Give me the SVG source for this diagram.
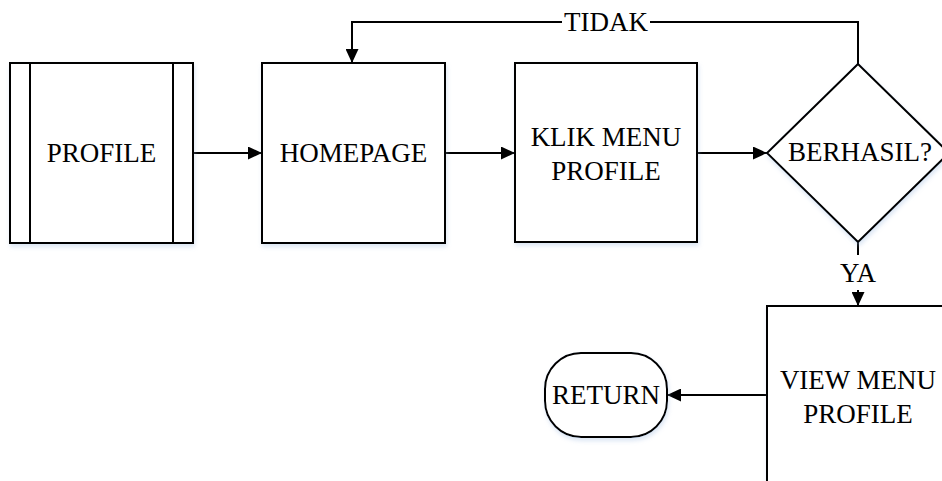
<svg xmlns="http://www.w3.org/2000/svg" width="942" height="481" viewBox="0 0 942 481">
<defs>
<style>
.shape{fill:#fff;stroke:#000;stroke-width:2;filter:url(#sh)}
.ln{fill:none;stroke:#000;stroke-width:2}
.t{font-family:"Liberation Serif","Times New Roman",serif;font-size:27px;fill:#000;text-anchor:middle}
</style>
<filter id="sh" x="-10%" y="-10%" width="125%" height="125%">
<feDropShadow dx="1" dy="3" stdDeviation="2" flood-color="#9ab8e0" flood-opacity="0.35"/>
</filter>
<marker id="ah" markerWidth="14" markerHeight="13" refX="14" refY="6.5" orient="auto" markerUnits="userSpaceOnUse">
<path d="M0,0 L14,6.5 L0,13 Z" fill="#000"/>
</marker>
</defs>
<g id="connectors">
<line class="ln" x1="193" y1="153" x2="262" y2="153" marker-end="url(#ah)"/>
<line class="ln" x1="445" y1="153" x2="515" y2="153" marker-end="url(#ah)"/>
<line class="ln" x1="697" y1="153" x2="767" y2="153" marker-end="url(#ah)"/>
<polyline class="ln" points="858,64 858,22 352,22 352,63" marker-end="url(#ah)"/>
<rect x="562" y="8" width="88" height="28" fill="#fff"/>
<text class="t" x="606" y="31">TIDAK</text>
<line class="ln" x1="858" y1="242" x2="858" y2="255"/>
<text class="t" x="858" y="282">YA</text>
<line class="ln" x1="858" y1="290" x2="858" y2="306" marker-end="url(#ah)"/>
<line class="ln" x1="767" y1="395" x2="667" y2="395" marker-end="url(#ah)"/>
</g>
<g id="profile">
<rect class="shape" x="10" y="63" width="183" height="180"/>
<line class="ln" x1="30" y1="63" x2="30" y2="243"/>
<line class="ln" x1="173" y1="63" x2="173" y2="243"/>
<text class="t" x="101.5" y="162">PROFILE</text>
</g>
<g id="homepage">
<rect class="shape" x="262" y="63" width="183" height="180"/>
<text class="t" x="353.5" y="162">HOMEPAGE</text>
</g>
<g id="klik">
<rect class="shape" x="515" y="63" width="182" height="179"/>
<text class="t" x="606" y="146">KLIK MENU</text>
<text class="t" x="606" y="180">PROFILE</text>
</g>
<g id="berhasil">
<polygon class="shape" points="858,64 949,153 858,242 767,153"/>
<text class="t" x="860" y="161">BERHASIL?</text>
</g>
<g id="view">
<rect class="shape" x="767" y="306" width="182" height="180"/>
<text class="t" x="858" y="389">VIEW MENU</text>
<text class="t" x="858" y="423">PROFILE</text>
</g>
<g id="return">
<rect class="shape" x="545" y="353" width="122" height="84" rx="36" ry="36"/>
<text class="t" x="606" y="404">RETURN</text>
</g>
</svg>
